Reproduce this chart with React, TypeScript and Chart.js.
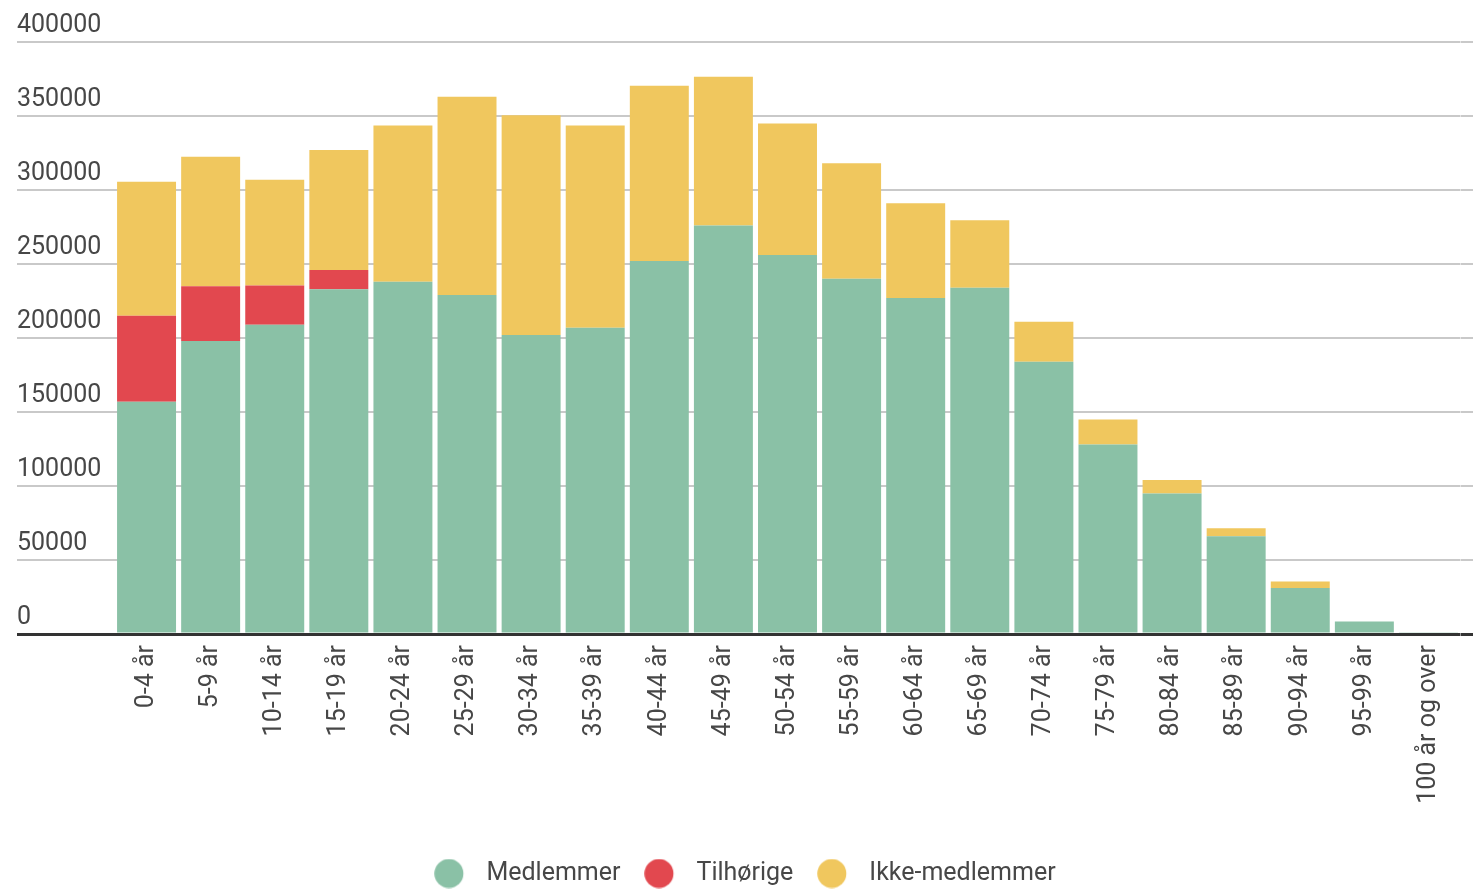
import React, { useEffect, useRef } from "react";
import { Chart, registerables } from "chart.js";

Chart.register(...registerables);

const categories = [
  "0-4 år", "5-9 år", "10-14 år", "15-19 år", "20-24 år", "25-29 år", "30-34 år",
  "35-39 år", "40-44 år", "45-49 år", "50-54 år", "55-59 år", "60-64 år", "65-69 år",
  "70-74 år", "75-79 år", "80-84 år", "85-89 år", "90-94 år", "95-99 år", "100 år og over",
];

const medlemmer = [157000, 198000, 209000, 233000, 238000, 229000, 202000, 207000, 252000, 276000, 256000, 240000, 227000, 234000, 184000, 128000, 95000, 66000, 31000, 8500, 800];
const tilhorige = [58000, 37000, 26500, 13000, 0, 0, 0, 0, 0, 0, 0, 0, 0, 0, 0, 0, 0, 0, 0, 0, 0];
const ikkeMedlemmer = [90500, 87500, 71500, 81000, 105500, 134000, 148500, 136500, 118500, 100500, 89000, 78000, 64000, 45500, 27000, 17000, 9000, 5500, 4500, 0, 0];

const seriesNames = ["Medlemmer", "Tilhørige", "Ikke-medlemmer"];
const seriesColors = ["#8ac1a6", "#e2484f", "#f0c75e"];

const yTickValues = [0, 50000, 100000, 150000, 200000, 250000, 300000, 350000, 400000];

const FONT = "Roboto";
const TEXT = "#474747";

function makeDot(color: string): HTMLCanvasElement {
  const c = document.createElement("canvas");
  c.width = 40;
  c.height = 30;
  const ctx = c.getContext("2d")!;
  ctx.fillStyle = color;
  ctx.beginPath();
  ctx.arc(14.75, 15, 14.5, 0, Math.PI * 2);
  ctx.fill();
  return c;
}

const gridColor = (ctx: any) => (ctx.tick && ctx.tick.value === 0 ? "#333333" : "#c9c9c9");
const gridWidth = (ctx: any) => (ctx.tick && ctx.tick.value === 0 ? 3 : 2);

export default function App() {
  const ref = useRef<HTMLCanvasElement>(null);

  useEffect(() => {
    if (!ref.current) return;
    const dots = seriesColors.map(makeDot);
    const chart = new Chart(ref.current, {
      type: "bar",
      data: {
        labels: categories,
        datasets: [
          { label: seriesNames[0], data: medlemmer, backgroundColor: seriesColors[0] },
          { label: seriesNames[1], data: tilhorige, backgroundColor: seriesColors[1] },
          { label: seriesNames[2], data: ikkeMedlemmer, backgroundColor: seriesColors[2] },
        ],
      },
      options: {
        animation: false,
        responsive: false,
        devicePixelRatio: 1,
        datasets: { bar: { categoryPercentage: 1, barPercentage: 0.92 } },
        layout: { padding: { left: 17, top: 42, right: 0, bottom: 0 } },
        plugins: {
          tooltip: { enabled: false },
          legend: {
            position: "bottom",
            labels: {
              usePointStyle: true,
              pointStyleWidth: 39.5,
              padding: 24,
              color: TEXT,
              font: { family: FONT, size: 25 },
              generateLabels: (ch: any) => {
                const items = (Chart as any).defaults.plugins.legend.labels.generateLabels(ch);
                return items.map((it: any) => ({ ...it, pointStyle: dots[it.datasetIndex] }));
              },
            },
          },
        },
        scales: {
          x: {
            stacked: true,
            grid: { display: false, drawTicks: false },
            border: { display: false },
            ticks: {
              color: TEXT,
              font: { family: FONT, size: 25 },
              maxRotation: 90,
              minRotation: 90,
              autoSkip: false,
              padding: 11,
            },
            afterFit: (s: any) => {
              s.height = 203;
            },
          },
          y: {
            stacked: true,
            min: 0,
            max: 400000,
            afterBuildTicks: (s: any) => {
              s.ticks = yTickValues.map((v) => ({ value: v }));
            },
            border: { display: false },
            grid: {
              color: gridColor,
              lineWidth: gridWidth,
              drawTicks: true,
              tickLength: 97.5,
            },
            ticks: {
              color: TEXT,
              font: { family: FONT, size: 25 },
              crossAlign: "far",
              labelOffset: -16,
              padding: 0,
              callback: (v: any) => String(v),
            },
            afterFit: (s: any) => {
              s.width = 97.5;
            },
          },
          yRight: {
            position: "right",
            min: 0,
            max: 400000,
            afterBuildTicks: (s: any) => {
              s.ticks = yTickValues.map((v) => ({ value: v }));
            },
            border: { display: false },
            grid: {
              color: gridColor,
              lineWidth: gridWidth,
              drawOnChartArea: false,
              drawTicks: true,
              tickLength: 12.5,
            },
            ticks: { display: false },
            afterFit: (s: any) => {
              s.width = 12.5;
            },
          },
        },
      } as any,
    });
    return () => chart.destroy();
  }, []);

  return (
    <div style={{ position: "fixed", left: 0, top: 0, width: 1473, height: 890, overflow: "hidden", background: "#ffffff" }}>
      <canvas ref={ref} width={1473} height={896} style={{ width: 1473, height: 896, display: "block" }} />
    </div>
  );
}
